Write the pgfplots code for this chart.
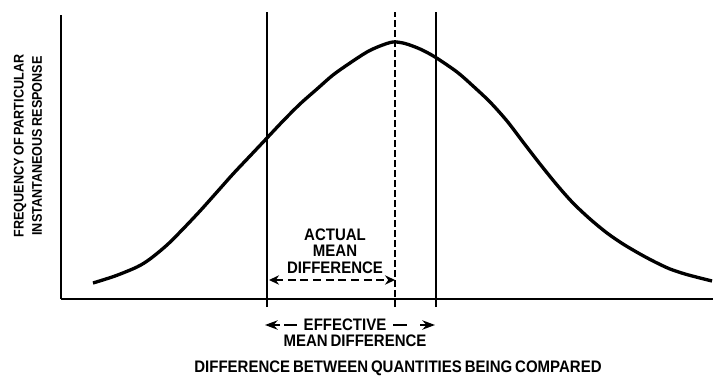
\documentclass[border=0pt]{standalone}
\usepackage{fontspec}
\setmainfont{Liberation Sans}[UprightFont=* Bold,FakeStretch=0.9,WordSpace=0.7]
\usepackage{pgfplots}
\pgfplotsset{compat=1.18}
\usetikzlibrary{arrows.meta}

\begin{document}
\begin{tikzpicture}
\begin{axis}[
  scale only axis,
  width=489pt, height=213pt,
  xmin=61, xmax=713, ymin=0, ymax=284,
  axis lines*=left,
  axis line style={line width=1.9pt},
  xtick=\empty, ytick=\empty,
  clip=false,
]
% distribution of instantaneous responses
\addplot[black, line width=2.5pt, smooth, tension=0.5] coordinates {
  (93,16) (115,23) (137,32) (150,40) (167,54) (183,70) (200,88)
  (217,107) (233,125) (250,143) (267,161) (283,178) (300,195)
  (317,210) (333,224) (350,236) (367,247) (380,253) (393,257)
  (405,255.5) (420,250) (435,242) (457,227) (473,213) (490,197)
  (507,178) (523,157) (540,135) (557,114) (573,96) (590,80)
  (607,66) (623,55) (640,45) (655,37) (670,30) (685,25)
  (700,21) (712,18)
};
% thresholds of the effective difference and the true mean
\addplot[black, line width=1.7pt] coordinates {(267,-8) (267,287)};
\addplot[black, line width=1.7pt] coordinates {(436,-8) (436,287)};
\addplot[black, line width=1.5pt, dash pattern=on 5pt off 2.5pt] coordinates {(395,-8) (395,287)};

% actual mean difference
\node[align=center, inner sep=0pt, font=\fontsize{12.5}{12.2}\selectfont]
  at (axis cs:335,48) {ACTUAL\\MEAN\\DIFFERENCE};
\draw[line width=1.4pt, dash pattern=on 6pt off 3.5pt,
  {Stealth[length=7.5pt,width=7pt]}-{Stealth[length=7.5pt,width=7pt]}]
  (axis cs:269,19) -- (axis cs:395,19);

% effective mean difference
\node[inner sep=0pt, font=\fontsize{12.5}{14}\selectfont] at (axis cs:345,-26) {EFFECTIVE};
\node[inner sep=0pt, font=\fontsize{12.5}{14}\selectfont] at (axis cs:355,-42) {MEAN DIFFERENCE};
\draw[line width=1.5pt, -{Stealth[length=9.5pt,width=7pt]}] (axis cs:280,-26) -- (axis cs:265,-26);
\draw[line width=1.5pt] (axis cs:284,-26) -- (axis cs:297,-26);
\draw[line width=1.5pt] (axis cs:393,-26) -- (axis cs:407,-26);
\draw[line width=1.5pt, -{Stealth[length=9.5pt,width=7pt]}] (axis cs:420,-26) -- (axis cs:435,-26);

% axis titles
\node[inner sep=0pt, anchor=base, font=\fontsize{12.5}{14}\selectfont]
  at (axis cs:398,-73) {DIFFERENCE BETWEEN QUANTITIES BEING COMPARED};
\node[inner sep=0pt, rotate=90, font=\fontsize{10.5}{14}\selectfont]
  at (axis cs:20,153) {FREQUENCY OF PARTICULAR};
\node[inner sep=0pt, rotate=90, font=\fontsize{10.5}{14}\selectfont]
  at (axis cs:37,153) {INSTANTANEOUS RESPONSE};

\coordinate (bl) at (axis cs:0,-76);
\coordinate (tr) at (axis cs:713,299);
\end{axis}
\pgfresetboundingbox
\path[use as bounding box] (bl) rectangle (tr);
\end{tikzpicture}
\end{document}
